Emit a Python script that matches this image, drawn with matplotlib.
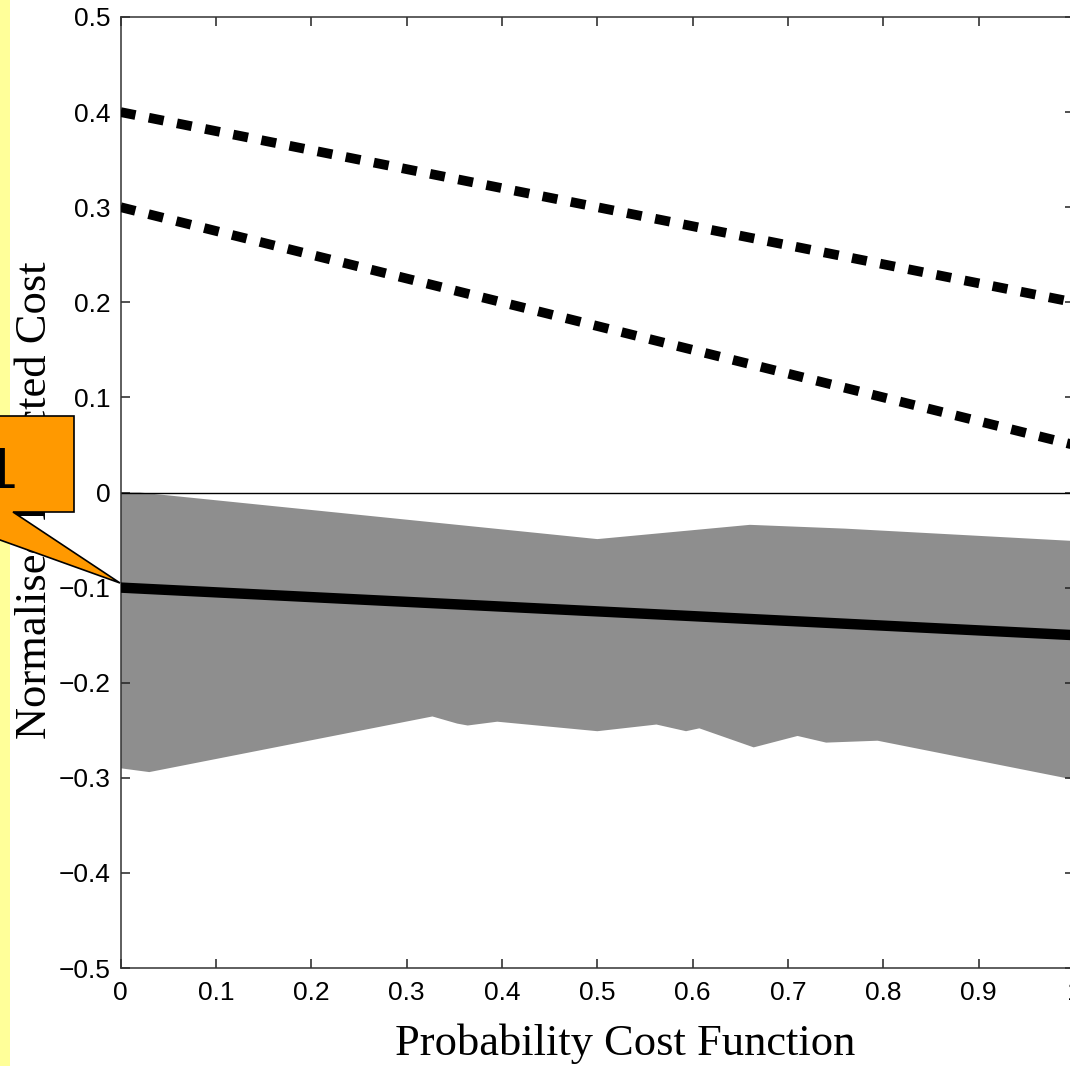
import matplotlib
matplotlib.use("Agg")
import matplotlib.pyplot as plt
from matplotlib.patches import Rectangle, Polygon

# data
line_x = [0.0, 1.0]
dash_upper = [0.40, 0.20]
dash_lower = [0.30, 0.05]
solid_mean = [-0.10, -0.15]

band_top_x = [0.0, 0.02, 0.50, 0.66, 0.76, 1.0]
band_top_y = [0.0, 0.0, -0.049, -0.034, -0.038, -0.051]
band_bot_x = [0.0, 0.03, 0.327, 0.353, 0.364, 0.395, 0.50, 0.562, 0.593,
              0.607, 0.664, 0.71, 0.74, 0.794, 1.0]
band_bot_y = [-0.29, -0.294, -0.2355, -0.243, -0.245, -0.241, -0.251, -0.244,
              -0.251, -0.248, -0.268, -0.256, -0.263, -0.261, -0.302]

xticks = [0, 0.1, 0.2, 0.3, 0.4, 0.5, 0.6, 0.7, 0.8, 0.9, 1.0]
xticklabels = ["0", "0.1", "0.2", "0.3", "0.4", "0.5", "0.6", "0.7", "0.8", "0.9", "1"]
yticks = [-0.5, -0.4, -0.3, -0.2, -0.1, 0, 0.1, 0.2, 0.3, 0.4, 0.5]
yticklabels = ["\u22120.5", "\u22120.4", "\u22120.3", "\u22120.2", "\u22120.1", "0",
               "0.1", "0.2", "0.3", "0.4", "0.5"]

W, H = 1070, 1066
fig = plt.figure(figsize=(W / 100, H / 100), dpi=100)
fig.patch.set_facecolor("white")

# pale yellow strip on the left of the slide
fig.add_artist(Rectangle((0, 0), 10 / W, 1, transform=fig.transFigure,
                         facecolor="#ffff99", edgecolor="none", zorder=0))

ax = fig.add_axes([120.7 / W, (H - 968) / H, (1074 - 120.7) / W, (968 - 17) / H])

band_x = band_top_x + band_bot_x[::-1]
band_y = band_top_y + band_bot_y[::-1]
ax.fill(band_x, band_y, color="#8e8e8e", linewidth=0, zorder=1)

ax.axhline(0, color="black", lw=1.0, zorder=2)
ax.plot(line_x, solid_mean, color="black", lw=7.5, solid_capstyle="butt", zorder=3)
for ys in (dash_upper, dash_lower):
    ax.plot(line_x, ys, color="black", lw=7, dashes=(1.55, 1.4),
            dash_capstyle="butt", zorder=3)

ax.set_xlim(0, 1)
ax.set_ylim(-0.5, 0.5)
ax.set_xticks(xticks)
ax.set_xticklabels(xticklabels)
ax.set_yticks(yticks)
ax.set_yticklabels(yticklabels)
ax.tick_params(direction="in", length=6.5, width=1.1, top=True, right=True,
               labelsize=19, colors="#222222")
ax.tick_params(axis="x", pad=9)
ax.tick_params(axis="y", pad=7)
for lab in ax.get_xticklabels() + ax.get_yticklabels():
    lab.set_fontfamily("Liberation Sans")
    lab.set_color("black")
for sp in ax.spines.values():
    sp.set_color("#333333")
    sp.set_linewidth(1.1)

ax.set_xlabel("Probability Cost Function", family="Liberation Serif",
              fontsize=32, labelpad=14)
ax.xaxis.label.set_x(0.529)
ax.set_ylabel("Normalised Expected Cost", family="Liberation Serif",
              fontsize=32, labelpad=3)
ax.yaxis.label.set_y(0.492)

# orange callout with pointer
pts = [(-200, 416), (74, 416), (74, 512), (13, 512), (120, 583),
       (-78, 512), (-200, 512)]
fig.add_artist(Polygon([(px / W, 1 - py / H) for px, py in pts], closed=True,
                       transform=fig.transFigure, facecolor="#ff9900",
                       edgecolor="black", lw=1.2, zorder=10))
fig.text(17 / W, 1 - 488 / H, "1", family="Liberation Sans", fontsize=42,
         ha="right", va="baseline", zorder=11)

fig.savefig("out.png", dpi=100)
